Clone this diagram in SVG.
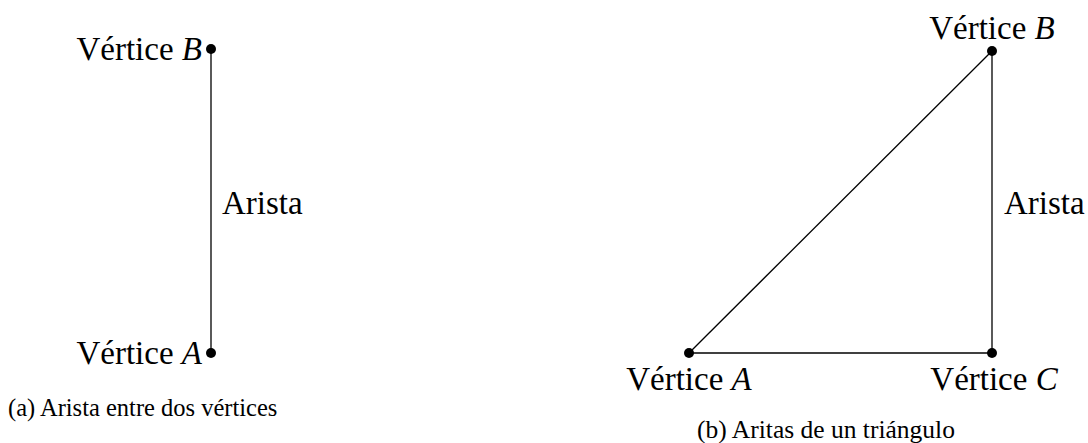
<svg xmlns="http://www.w3.org/2000/svg" width="1088" height="443" viewBox="0 0 1088 443">
  <style>
    text { font-family: "Liberation Serif", "DejaVu Serif", serif; fill: #000; }
    .lbl { font-size: 33px; }
    .cap { font-size: 24.5px; }
    .capb { font-size: 25.5px; }
    .it { font-style: italic; }
    .edge { stroke: #000; stroke-width: 1.3; fill: none; }
    .dot { fill: #000; }
  </style>
  <rect width="1088" height="443" fill="#fff"/>

  <!-- connectors -->
  <g id="edges">
    <line class="edge" x1="211" y1="49" x2="211" y2="353"/>
    <line class="edge" x1="689" y1="353" x2="992" y2="51"/>
    <line class="edge" x1="992" y1="51" x2="992" y2="353"/>
    <line class="edge" x1="689" y1="353" x2="992" y2="353"/>
  </g>

  <!-- (a) single edge -->
  <g id="a-vertex-B">
    <circle class="dot" cx="211" cy="49" r="5"/>
    <text class="lbl" x="202" y="60" text-anchor="end">Vértice <tspan class="it">B</tspan></text>
  </g>
  <g id="a-vertex-A">
    <circle class="dot" cx="211" cy="353" r="5"/>
    <text class="lbl" x="202" y="364" text-anchor="end">Vértice <tspan class="it">A</tspan></text>
  </g>
  <g id="a-edge-label">
    <text class="lbl" x="222" y="214">Arista</text>
  </g>
  <text class="cap" x="8" y="416">(a) Arista entre dos vértices</text>

  <!-- (b) triangle -->
  <g id="b-vertex-B">
    <circle class="dot" cx="992" cy="51" r="5"/>
    <text class="lbl" x="992" y="39" text-anchor="middle">Vértice <tspan class="it">B</tspan></text>
  </g>
  <g id="b-vertex-A">
    <circle class="dot" cx="689" cy="353" r="5"/>
    <text class="lbl" x="689" y="390" text-anchor="middle">Vértice <tspan class="it">A</tspan></text>
  </g>
  <g id="b-vertex-C">
    <circle class="dot" cx="992" cy="353" r="5"/>
    <text class="lbl" x="994" y="390" text-anchor="middle">Vértice <tspan class="it">C</tspan></text>
  </g>
  <g id="b-edge-label">
    <text class="lbl" x="1004" y="214">Arista</text>
  </g>
  <text class="capb" x="826" y="438" text-anchor="middle">(b) Aritas de un triángulo</text>
</svg>
